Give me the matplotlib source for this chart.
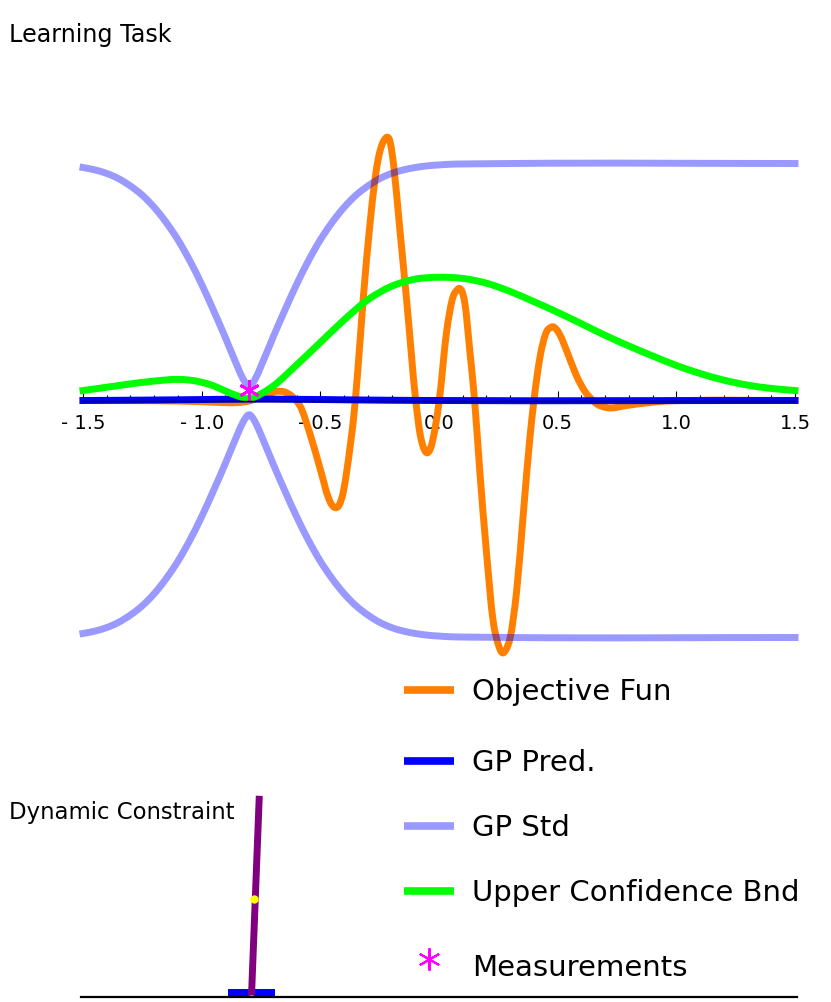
import matplotlib
matplotlib.use("Agg")
import matplotlib.pyplot as plt
from matplotlib.lines import Line2D
from matplotlib.patches import PathPatch, Rectangle
from matplotlib.path import Path

W, H = 831, 1003

# objective function
obj_x = [-1.5, -1.2, -1.0, -0.9, -0.85, -0.8, -0.76, -0.72, -0.68, -0.65, -0.62, -0.6,
         -0.585, -0.543, -0.5, -0.466, -0.455, -0.438, -0.42, -0.403, -0.389, -0.372, -0.36, -0.345, -0.319,
         -0.291, -0.27, -0.255, -0.24, -0.228, -0.218, -0.208, -0.199, -0.19, -0.167, -0.136, -0.098, -0.08,
         -0.065, -0.05, -0.035, -0.017, 0.001, 0.032, 0.06, 0.075, 0.086, 0.097, 0.109, 0.13,
         0.15, 0.172, 0.2, 0.228, 0.25, 0.262, 0.271, 0.28, 0.3, 0.327, 0.355, 0.383, 0.4,
         0.425, 0.453, 0.47, 0.481, 0.495, 0.509, 0.544, 0.579, 0.615, 0.643, 0.664, 0.69,
         0.713, 0.79, 0.875, 0.96, 1.05, 1.5]
obj_y = [0.0, -0.001, -0.005, -0.009, -0.009, -0.002, 0.012, 0.03, 0.039, 0.036, 0.018, -0.002,
         -0.024, -0.143, -0.291, -0.41, -0.435, -0.452, -0.44, -0.385, -0.3, -0.175, -0.075, 0.09, 0.433,
         0.743, 0.93, 1.025, 1.08, 1.103, 1.111, 1.098, 1.052, 0.982, 0.743, 0.419, 0.0, -0.14,
         -0.2, -0.221, -0.2, -0.12, 0.0, 0.29, 0.44, 0.465, 0.473, 0.46, 0.41, 0.208,
         0.0, -0.3, -0.64, -0.93, -1.03, -1.06, -1.065, -1.055, -1.0, -0.805, -0.481, -0.157, 0.0,
         0.18, 0.29, 0.308, 0.311, 0.3, 0.278, 0.194, 0.105, 0.038, 0.005, -0.014, -0.026,
         -0.031, -0.021, -0.01, -0.002, 0.0, 0.0]

# GP prediction
pred_x = [-1.5, -1.2, -1.0, -0.8, -0.6, -0.4, -0.2, 0.0, 1.5]
pred_y = [0.0, 0.002, 0.004, 0.006, 0.005, 0.003, 0.001, 0.0, 0.0]

# GP std (upper band, lower band is the mirror)
std_x = [-1.5, -1.45, -1.4, -1.35, -1.3, -1.25, -1.2, -1.15, -1.1, -1.05, -1.0, -0.95, -0.9, -0.85,
         -0.825, -0.8, -0.775, -0.75, -0.7, -0.65, -0.6, -0.55, -0.5, -0.45, -0.4, -0.35, -0.3,
         -0.25, -0.2, -0.15, -0.1, -0.05, 0.0, 0.05, 0.1, 0.2, 0.3, 1.5]
std_y = [0.983, 0.973, 0.958, 0.936, 0.905, 0.866, 0.815, 0.752, 0.678, 0.59, 0.49, 0.38, 0.265, 0.145,
         0.09, 0.06, 0.09, 0.145, 0.265, 0.38, 0.49, 0.59, 0.678, 0.752, 0.815, 0.866, 0.905,
         0.936, 0.958, 0.973, 0.983, 0.99, 0.994, 0.997, 0.998, 0.999, 1.0, 1.0]

# upper confidence bound
ucb_x = [-1.5, -1.4, -1.3, -1.2, -1.1, -1.05, -1.0, -0.95, -0.9, -0.85, -0.8, -0.75, -0.7, -0.6, -0.5, -0.4, -0.3,
         -0.2, -0.1, 0.0, 0.1, 0.2, 0.3, 0.4, 0.5, 0.6, 0.7, 0.8, 0.9, 1.0, 1.1, 1.2, 1.3, 1.4, 1.5]
ucb_y = [0.042, 0.056, 0.07, 0.082, 0.089, 0.086, 0.077, 0.062, 0.04, 0.02, 0.008, 0.028, 0.06, 0.15, 0.245, 0.34, 0.425,
         0.482, 0.512, 0.52, 0.515, 0.495, 0.46, 0.417, 0.372, 0.324, 0.275, 0.23, 0.188, 0.148, 0.114,
         0.086, 0.065, 0.051, 0.042]

meas_x = [-0.8]
meas_y = [0.046]

tick_major = [-1.5, -1.0, -0.5, 0.0, 0.5, 1.0, 1.5]
tick_minor = [-1.4, -1.3, -1.2, -1.1, -0.9, -0.8, -0.7, -0.6, -0.4, -0.3, -0.2, -0.1,
              0.1, 0.2, 0.3, 0.4, 0.6, 0.7, 0.8, 0.9, 1.1, 1.2, 1.3, 1.4]
tick_labels = ["- 1.5", "- 1.0", "- 0.5", "0.0", "0.5", "1.0", "1.5"]

# inverted pendulum state
cart_pos = -0.79
cart_halfwidth = 0.1
cart_height = 0.035
pole_tip = (-0.757, 0.849)
pole_mid = (-0.781, 0.415)
pivot_y = -0.007

legend_names = ["Objective Fun", "GP Pred.", "GP Std", "Upper Confidence Bnd", "Measurements"]
legend_baselines = [700, 771, 836, 901, 976]
legend_rows = [691, 762, 827, 892, 960]

ORANGE = "#ff8000"
BLUE = "#0000ff"
GREEN = "#00ff00"
MAGENTA = "#ff00ff"

plt.rcParams["font.family"] = "DejaVu Sans"
fig = plt.figure(figsize=(W / 100, H / 100), dpi=100)


def rect(left, top, right, bottom):
    return [left / W, 1 - bottom / H, (right - left) / W, (bottom - top) / H]


def smooth_path(xs, ys):
    # bezier segments through the read points, so the curve doesn't look faceted
    n = len(xs)
    slopes = []
    for i in range(n):
        if i == 0:
            slopes.append((ys[1] - ys[0]) / (xs[1] - xs[0]))
        elif i == n - 1:
            slopes.append((ys[-1] - ys[-2]) / (xs[-1] - xs[-2]))
        else:
            h0, h1 = xs[i] - xs[i - 1], xs[i + 1] - xs[i]
            d0, d1 = (ys[i] - ys[i - 1]) / h0, (ys[i + 1] - ys[i]) / h1
            slopes.append((h1 * d0 + h0 * d1) / (h0 + h1))
    verts = [(xs[0], ys[0])]
    codes = [Path.MOVETO]
    for i in range(n - 1):
        h = (xs[i + 1] - xs[i]) / 3
        verts += [(xs[i] + h, ys[i] + h * slopes[i]), (xs[i + 1] - h, ys[i + 1] - h * slopes[i + 1]), (xs[i + 1], ys[i + 1])]
        codes += [Path.CURVE4] * 3
    return Path(verts, codes)


def add_curve(axis, xs, ys, **kw):
    axis.add_patch(PathPatch(smooth_path(xs, ys), fill=False, capstyle="projecting", joinstyle="round",
                             clip_on=False, **kw))


# learning task axes
ax = fig.add_axes(rect(83, 130, 795, 660))
ax.patch.set_visible(False)
ax.set_xlim(-1.5, 1.5)
ax.set_ylim((401.5 - 660) / 237, (401.5 - 130) / 237)
for side in ["left", "right", "top"]:
    ax.spines[side].set_visible(False)
ax.spines["bottom"].set_position(("data", 0))
ax.spines["bottom"].set_linewidth(1.0)
ax.spines["bottom"].set_zorder(10)
ax.set_yticks([])
ax.set_xticks(tick_major)
ax.set_xticks(tick_minor, minor=True)
ax.set_xticklabels(tick_labels, fontsize=14)
ax.tick_params(axis="x", which="major", direction="in", length=7.2, width=0.8, pad=9, zorder=11)
ax.tick_params(axis="x", which="minor", direction="in", length=4.3, width=0.8)

LW = 5.0
add_curve(ax, obj_x, obj_y, edgecolor=ORANGE, lw=LW, zorder=3)
add_curve(ax, std_x, std_y, edgecolor=BLUE, alpha=0.4, lw=LW, zorder=4)
add_curve(ax, std_x, [-v for v in std_y], edgecolor=BLUE, alpha=0.4, lw=LW, zorder=4)
add_curve(ax, pred_x, pred_y, edgecolor=BLUE, lw=LW, zorder=5)
add_curve(ax, ucb_x, ucb_y, edgecolor=GREEN, lw=LW, zorder=6)
ax.plot(meas_x, meas_y, color=MAGENTA, ls="none", marker=(6, 2, 0), ms=15, mew=2, clip_on=False, zorder=7)

# dynamic constraint axes, same x scale, ground is the bottom spine
ax2 = fig.add_axes(rect(81, 790, 797, 998))
ax2.patch.set_visible(False)
ax2.set_xlim(-1.508, 1.508)
ax2.set_ylim(0, 208 / 237)
for side in ["left", "right", "top"]:
    ax2.spines[side].set_visible(False)
ax2.spines["bottom"].set_linewidth(1.6)
ax2.spines["bottom"].set_zorder(10)
ax2.set_xticks([])
ax2.set_yticks([])
ax2.add_patch(Rectangle((cart_pos - cart_halfwidth, 0), 2 * cart_halfwidth, cart_height, color=BLUE, lw=0, zorder=2))
ax2.plot([cart_pos, pole_tip[0]], [0, pole_tip[1]], color="#800080", lw=5, solid_capstyle="butt", clip_on=False, zorder=3)
ax2.plot([pole_mid[0]], [pole_mid[1]], "o", color="#ffff00", ms=6, mew=0, zorder=4)
ax2.plot([cart_pos], [pivot_y], "o", color="#ffff00", ms=6, mew=0, zorder=4)

# titles
fig.text(9 / W, 1 - 42 / H, "Learning Task", fontsize=17.2, va="baseline")
fig.text(9 / W, 1 - 819 / H, "Dynamic Constraint", fontsize=16.4, va="baseline")

# legend, rows are not evenly spaced so it's placed by hand
legend_colors = [ORANGE, BLUE, "#9999ff", GREEN]
for i, name in enumerate(legend_names):
    fig.text(472 / W, 1 - legend_baselines[i] / H, name, fontsize=21, va="baseline")
    if i < 4:
        fig.add_artist(Line2D([404 / W, 454 / W], [1 - legend_rows[i] / H] * 2, color=legend_colors[i],
                              lw=5.5, solid_capstyle="butt"))
    else:
        fig.add_artist(Line2D([429 / W], [1 - legend_rows[i] / H], color=MAGENTA, ls="none",
                              marker=(6, 2, 0), ms=16, mew=1.5))

fig.savefig("out.png", dpi=100)
